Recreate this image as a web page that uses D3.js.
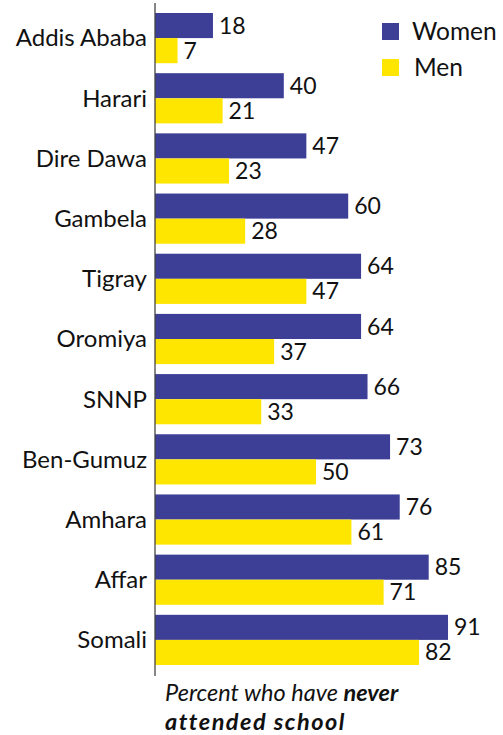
<!DOCTYPE html>
<html>
<head>
<meta charset="utf-8">
<script src="https://cdn.jsdelivr.net/npm/d3@7"></script>
<style>
  html, body { margin: 0; padding: 0; background: #fff; }
  svg { display: block; }
  text { font-family: Lato, "Open Sans", sans-serif; fill: #111; }
</style>
</head>
<body>
<svg id="chart" width="503" height="735"></svg>
<script>
const regions = ["Addis Ababa", "Harari", "Dire Dawa", "Gambela", "Tigray", "Oromiya", "SNNP", "Ben-Gumuz", "Amhara", "Affar", "Somali"];
const women = [18, 40, 47, 60, 64, 64, 66, 73, 76, 85, 91];
const men = [7, 21, 23, 28, 47, 37, 33, 50, 61, 71, 82];
const seriesNames = ["Women", "Men"];
const colors = ["#3d3f97", "#ffe600"];

const svg = d3.select("#chart");
const axisX = 155;

const x = d3.scaleLinear().domain([0, 100]).range([axisX, axisX + 322]);
const y = d3.scaleBand().domain(regions).range([13, 665]).paddingInner(0.166).paddingOuter(0);
const sub = d3.scaleBand().domain(seriesNames).range([0, y.bandwidth()]);

const data = regions.map((r, i) => ({ region: r, values: [women[i], men[i]] }));

const groups = svg.selectAll("g.grp").data(data).join("g")
  .attr("class", "grp")
  .attr("transform", d => `translate(0,${y(d.region)})`);

groups.selectAll("rect").data(d => d.values.map((v, k) => ({ v, k }))).join("rect")
  .attr("x", x(0))
  .attr("y", d => sub(seriesNames[d.k]))
  .attr("width", d => x(d.v) - x(0))
  .attr("height", sub.bandwidth())
  .attr("fill", d => colors[d.k]);

groups.selectAll("text.val").data(d => d.values.map((v, k) => ({ v, k }))).join("text")
  .attr("class", "val")
  .attr("x", d => x(d.v) + 6)
  .attr("y", d => sub(seriesNames[d.k]) + sub.bandwidth() / 2)
  .attr("dy", "0.35em")
  .attr("font-size", 23)
  .text(d => d.v);

// category labels
svg.selectAll("text.cat").data(regions).join("text")
  .attr("class", "cat")
  .attr("x", 147)
  .attr("y", d => y(d) + y.bandwidth() / 2)
  .attr("dy", "0.35em")
  .attr("text-anchor", "end")
  .attr("font-size", 24)
  .text(d => d);

// axis line
const yAxis = d3.axisLeft(y).tickSize(0).tickFormat("");
const ax = svg.append("g").attr("transform", `translate(${axisX},0)`).call(yAxis);
ax.select(".domain").attr("d", "M0,3V676").attr("stroke", "#444").attr("stroke-width", 1.3);

// legend
const legend = svg.append("g");
seriesNames.forEach((s, i) => {
  legend.append("rect").attr("x", 382).attr("y", 23 + i * 36).attr("width", 17).attr("height", 17).attr("fill", colors[i]);
  legend.append("text").attr("x", 412 + i * 2).attr("y", 31.5 + i * 36).attr("dy", "0.35em")
    .attr("font-size", 24.5).text(s);
});

// footer
const foot = svg.append("text").attr("x", 165).attr("y", 701).attr("font-size", 23.5).attr("font-style", "italic");
foot.append("tspan").text("Percent who have ");
foot.append("tspan").attr("font-weight", "bold").text("never");
svg.append("text").attr("x", 165).attr("y", 730).attr("font-size", 23.5)
  .attr("font-style", "italic").attr("font-weight", "bold").attr("letter-spacing", 1.5).text("attended school");
</script>
</body>
</html>
